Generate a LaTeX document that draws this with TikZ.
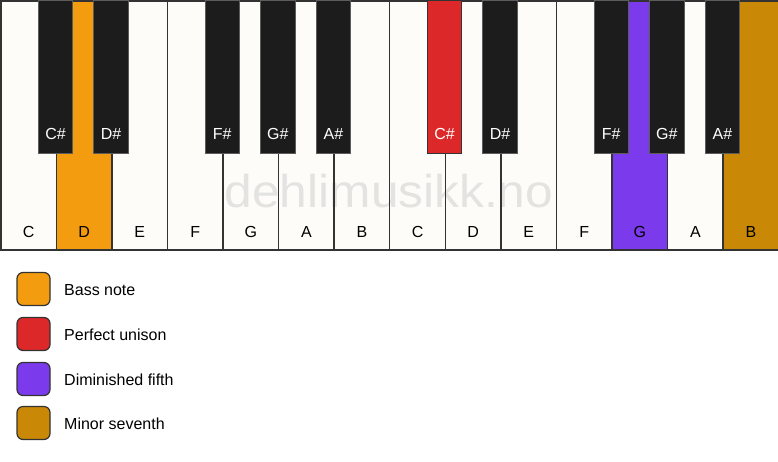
\documentclass[tikz,border=0pt]{standalone}
\usepackage{fontspec}
\setmainfont{Liberation Sans}
\definecolor{keywhite}{HTML}{FDFCF9}
\definecolor{keyline}{HTML}{333333}
\definecolor{keyblack}{HTML}{1C1C1C}
\definecolor{bassorange}{HTML}{F39C0F}
\definecolor{unisonred}{HTML}{DC2828}
\definecolor{fifthpurple}{HTML}{7C3AED}
\definecolor{seventhgold}{HTML}{C98805}
\definecolor{markgray}{HTML}{E3E3E1}
\begin{document}
\begin{tikzpicture}[x=1pt,y=-1pt]
    \tikzstyle{wkey} = [rectangle, draw=keyline, line width=1.5pt, inner sep=0pt,
        minimum width=55.57pt, minimum height=249pt, anchor=north west]
    \tikzstyle{bkey} = [rectangle, draw=keyline!80, line width=1pt, inner sep=0pt,
        fill=keyblack, minimum width=34.5pt, minimum height=153pt, anchor=north]
    \tikzstyle{wname} = [anchor=center, yshift=19pt, text=black,
        font=\fontsize{16}{19}\selectfont]
    \tikzstyle{bname} = [anchor=center, yshift=20pt, text=white,
        font=\fontsize{16}{19}\selectfont]
    \tikzstyle{swatch} = [rectangle, rounded corners=6pt, draw=keyline,
        line width=1.2pt, minimum width=33pt, minimum height=33pt, inner sep=0pt]
    \tikzstyle{legtext} = [anchor=west, inner sep=0pt, text height=12pt,
        text depth=0pt, font=\fontsize{16}{19}\selectfont]

    \useasboundingbox (0,0) rectangle (778,461);

    \fill[keywhite] (0,0) rectangle (778,249);
    \node(mark) [anchor=base, text=markgray, font=\fontsize{46}{50}\selectfont,
        xscale=1.08, transform shape]
        at (389,207) {dehlimusikk.no};

    % white keys
    \node(wC1) [wkey, label={[wname]south:C}] at (0,0) {};
    \node(wD1) [wkey, fill=bassorange, label={[wname]south:D}] at (55.57,0) {};
    \node(wE1) [wkey, label={[wname]south:E}] at (111.14,0) {};
    \node(wF1) [wkey, label={[wname]south:F}] at (166.71,0) {};
    \node(wG1) [wkey, label={[wname]south:G}] at (222.28,0) {};
    \node(wA1) [wkey, label={[wname]south:A}] at (277.85,0) {};
    \node(wB1) [wkey, label={[wname]south:B}] at (333.42,0) {};
    \node(wC2) [wkey, label={[wname]south:C}] at (388.99,0) {};
    \node(wD2) [wkey, label={[wname]south:D}] at (444.56,0) {};
    \node(wE2) [wkey, label={[wname]south:E}] at (500.13,0) {};
    \node(wF2) [wkey, label={[wname]south:F}] at (555.70,0) {};
    \node(wG2) [wkey, fill=fifthpurple, label={[wname]south:G}] at (611.27,0) {};
    \node(wA2) [wkey, label={[wname]south:A}] at (666.84,0) {};
    \node(wB2) [wkey, fill=seventhgold, label={[wname]south:B}] at (722.41,0) {};

    % black keys
    \node(bCs1) [bkey, label={[bname]south:C\#}] at (55.57,0) {};
    \node(bDs1) [bkey, label={[bname]south:D\#}] at (111.14,0) {};
    \node(bFs1) [bkey, label={[bname]south:F\#}] at (222.28,0) {};
    \node(bGs1) [bkey, label={[bname]south:G\#}] at (277.85,0) {};
    \node(bAs1) [bkey, label={[bname]south:A\#}] at (333.42,0) {};
    \node(bCs2) [bkey, fill=unisonred, draw=keyline, label={[bname]south:C\#}]
        at (444.56,0) {};
    \node(bDs2) [bkey, label={[bname]south:D\#}] at (500.13,0) {};
    \node(bFs2) [bkey, label={[bname]south:F\#}] at (611.27,0) {};
    \node(bGs2) [bkey, label={[bname]south:G\#}] at (666.84,0) {};
    \node(bAs2) [bkey, label={[bname]south:A\#}] at (722.41,0) {};

    % legend
    \node(swbass) [swatch, fill=bassorange] at (33.5,289) {};
    \node(txbass) [legtext] at (64,289) {Bass note};
    \node(swunison) [swatch, fill=unisonred] at (33.5,334) {};
    \node(txunison) [legtext] at (64,334) {Perfect unison};
    \node(swfifth) [swatch, fill=fifthpurple] at (33.5,379) {};
    \node(txfifth) [legtext] at (64,379) {Diminished fifth};
    \node(swseventh) [swatch, fill=seventhgold] at (33.5,423) {};
    \node(txseventh) [legtext] at (64,423) {Minor seventh};
\end{tikzpicture}
\end{document}
